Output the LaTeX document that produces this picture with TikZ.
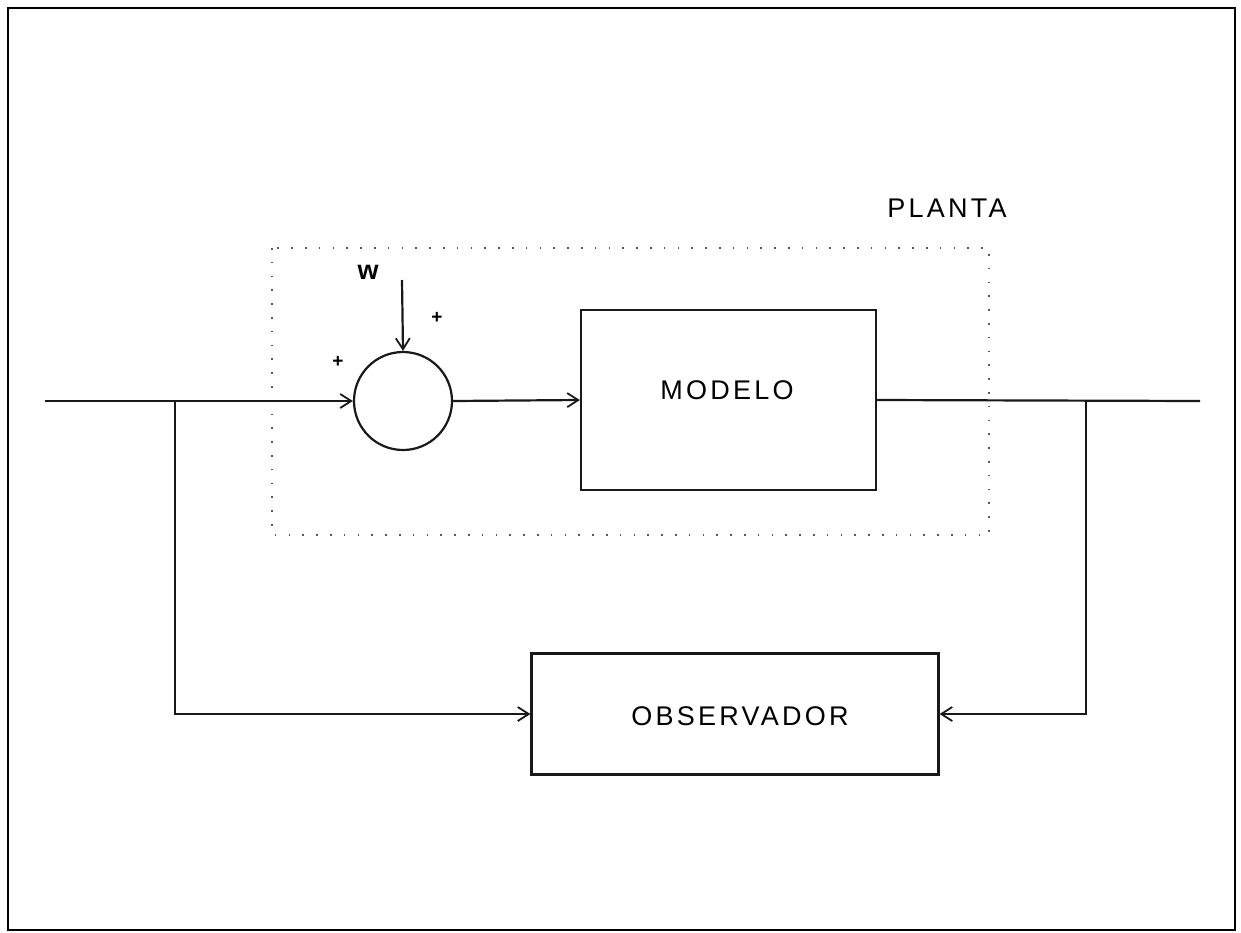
\documentclass[tikz,border=0pt]{standalone}
\usepackage{fontspec}
\setmainfont{Liberation Sans}
\usetikzlibrary{arrows.meta}
\newfontfamily\labfont[LetterSpace=12]{Liberation Sans}
\begin{document}
\begin{tikzpicture}[x=1pt,y=-1pt,
  line/.style={draw=black!90, line width=2.2pt},
  arr/.style={line, -{Straight Barb[length=11pt,width=14pt,line width=1.8pt]}},
  blockbox/.style={line, rectangle, inner sep=0pt},
  lab/.style={font=\labfont\fontsize{27}{30}\selectfont, inner sep=0pt},
  sign/.style={font=\bfseries\fontsize{19}{21}\selectfont, inner sep=0pt}]
\useasboundingbox (0,0) rectangle (1241,932);
\draw[line width=2.6pt] (8,8) rectangle (1235,930);
% plant dotted region
\draw[gray!70!black, line width=2.2pt, dash pattern=on 1.6pt off 12.2pt] (272,248) rectangle (989,535);
\node[lab] (planta) at (947,208) {PLANTA};
% blocks
\node[line, circle, minimum size=98pt, inner sep=0pt] (sum) at (403,401) {};
\node[blockbox, minimum width=295pt, minimum height=180pt] (mod) at (728.5,400) {};
\node[lab] (modtxt) at (727,390) {MODELO};
\node[blockbox, minimum width=407pt, minimum height=121pt] (obs) at (735,714) {};
\node[lab] (obstxt) at (740,716) {OBSERVADOR};
% labels
\node[font=\bfseries\fontsize{27}{29}\selectfont, inner sep=0pt] (w) at (368,272) {w};
\node[sign] (p1) at (437,318) {+};
\node[sign] (p2) at (338,362) {+};
% coordinates
\coordinate (in) at (45,401);
\coordinate (b1) at (175,401);
\coordinate (out) at (1200,401);
\coordinate (b2) at (1086,401);
\coordinate (wtop) at (402,280);
% connectors
\draw[arr] (in) -- (sum.west);
\draw[arr] (b1) |- (obs.west);
\draw[arr] (sum.east) -- (mod.west);
\draw[line] (mod.east) -- (out);
\draw[arr] (b2) |- (obs.east);
\draw[arr] (wtop) -- (sum.north);
\end{tikzpicture}
\end{document}
